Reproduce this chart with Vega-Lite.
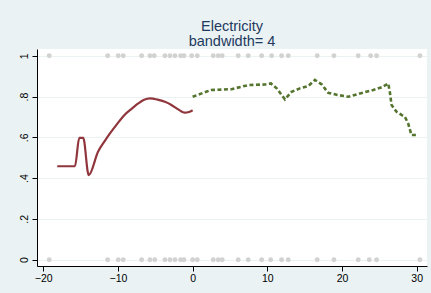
{
  "$schema": "https://vega.github.io/schema/vega-lite/v6.json",
  "width": 390,
  "height": 217,
  "autosize": {"type": "none"},
  "padding": {"left": 37, "top": 49, "right": 4, "bottom": 27},
  "background": "#EAF2F3",
  "config": {
    "view": {"fill": "white", "stroke": null},
    "font": "Liberation Sans"
  },
  "title": {
    "text": ["Electricity", "bandwidth= 4"],
    "anchor": "middle",
    "fontSize": 14.5,
    "fontWeight": "normal",
    "color": "#1E3A5F",
    "lineHeight": 15,
    "offset": 0,
    "font": "Liberation Sans"
  },
  "datasets": {
    "pts": [
      {"x": -19.2, "y": 1}, {"x": -11.38, "y": 1}, {"x": -9.96, "y": 1}, {"x": -9.29, "y": 1},
      {"x": -6.83, "y": 1}, {"x": -5.72, "y": 1}, {"x": -5.14, "y": 1}, {"x": -3.71, "y": 1},
      {"x": -3.04, "y": 1}, {"x": -2.37, "y": 1}, {"x": -1.61, "y": 1}, {"x": -1.16, "y": 1},
      {"x": -0.13, "y": 1}, {"x": 0.62, "y": 1}, {"x": 2.76, "y": 1}, {"x": 3.43, "y": 1},
      {"x": 3.96, "y": 1}, {"x": 6.1, "y": 1}, {"x": 7.44, "y": 1}, {"x": 9.24, "y": 1},
      {"x": 10.58, "y": 1}, {"x": 11.91, "y": 1}, {"x": 12.8, "y": 1}, {"x": 16.68, "y": 1},
      {"x": 18.92, "y": 1}, {"x": 22.17, "y": 1}, {"x": 23.83, "y": 1}, {"x": 24.63, "y": 1},
      {"x": 30.43, "y": 1},
      {"x": -19.2, "y": 0}, {"x": -11.38, "y": 0}, {"x": -9.96, "y": 0}, {"x": -9.29, "y": 0},
      {"x": -6.83, "y": 0}, {"x": -5.72, "y": 0}, {"x": -5.07, "y": 0}, {"x": -3.71, "y": 0},
      {"x": -3.04, "y": 0}, {"x": -2.37, "y": 0}, {"x": -1.61, "y": 0}, {"x": -1.16, "y": 0},
      {"x": 0.0, "y": 0}, {"x": 0.62, "y": 0}, {"x": 2.76, "y": 0}, {"x": 3.43, "y": 0},
      {"x": 3.96, "y": 0}, {"x": 6.1, "y": 0}, {"x": 7.44, "y": 0}, {"x": 9.24, "y": 0},
      {"x": 10.45, "y": 0}, {"x": 11.91, "y": 0}, {"x": 12.8, "y": 0}, {"x": 16.68, "y": 0},
      {"x": 18.92, "y": 0}, {"x": 22.17, "y": 0}, {"x": 23.65, "y": 0}, {"x": 24.63, "y": 0},
      {"x": 30.43, "y": 0}
    ],
    "left": [
      {"x": -18.13, "y": 0.458}, {"x": -15.76, "y": 0.458}, {"x": -15.18, "y": 0.597},
      {"x": -14.65, "y": 0.597}, {"x": -13.92, "y": 0.415}, {"x": -12.64, "y": 0.532},
      {"x": -11.8, "y": 0.58}, {"x": -11.07, "y": 0.619}, {"x": -10.1, "y": 0.666},
      {"x": -9.06, "y": 0.712}, {"x": -8.1, "y": 0.742}, {"x": -7.28, "y": 0.766},
      {"x": -6.5, "y": 0.784}, {"x": -5.72, "y": 0.791}, {"x": -4.7, "y": 0.785},
      {"x": -3.71, "y": 0.774}, {"x": -2.9, "y": 0.76}, {"x": -2.14, "y": 0.742},
      {"x": -1.5, "y": 0.727}, {"x": -1.03, "y": 0.721}, {"x": -0.5, "y": 0.724},
      {"x": 0.0, "y": 0.733}
    ],
    "right": [
      {"x": 0.0, "y": 0.799}, {"x": 2.46, "y": 0.832}, {"x": 5.2, "y": 0.836},
      {"x": 7.44, "y": 0.856}, {"x": 9.68, "y": 0.859}, {"x": 10.48, "y": 0.864},
      {"x": 11.25, "y": 0.84}, {"x": 12.36, "y": 0.786}, {"x": 13.25, "y": 0.823},
      {"x": 14.36, "y": 0.84}, {"x": 15.48, "y": 0.851}, {"x": 16.37, "y": 0.881},
      {"x": 17.27, "y": 0.86}, {"x": 18.15, "y": 0.818}, {"x": 19.5, "y": 0.807},
      {"x": 20.83, "y": 0.799}, {"x": 22.4, "y": 0.815}, {"x": 24.18, "y": 0.832},
      {"x": 25.3, "y": 0.845}, {"x": 26.19, "y": 0.864}, {"x": 26.4, "y": 0.823},
      {"x": 26.64, "y": 0.758}, {"x": 27.3, "y": 0.725}, {"x": 28.42, "y": 0.7},
      {"x": 28.86, "y": 0.668}, {"x": 29.3, "y": 0.611}, {"x": 30.2, "y": 0.611}
    ]
  },
  "encoding": {
    "x": {
      "field": "x", "type": "quantitative",
      "scale": {"domain": [-20.84, 31.38], "nice": false, "zero": false},
      "axis": {
        "title": null, "values": [-20, -10, 0, 10, 20, 30], "grid": false,
        "domainColor": "black", "tickColor": "black", "tickSize": 5,
        "labelColor": "black", "labelFontSize": 10.5, "labelPadding": 2,
        "labelFont": "Liberation Sans", "domainWidth": 1, "labelFlush": false
      }
    },
    "y": {
      "field": "y", "type": "quantitative",
      "scale": {"domain": [-0.031, 1.033], "nice": false, "zero": false},
      "axis": {
        "title": null, "values": [0, 0.2, 0.4, 0.6, 0.8, 1],
        "labelExpr": "datum.value == 0 ? '0' : datum.value == 1 ? '1' : substring(format(datum.value, '.1f'), 1)",
        "grid": true, "gridColor": "#EAF2F3", "gridWidth": 1.2,
        "domainColor": "black", "tickColor": "black", "tickSize": 5,
        "labelColor": "black", "labelFontSize": 10.5, "labelPadding": 3,
        "labelAngle": -90, "labelAlign": "center", "labelBaseline": "bottom",
        "labelFont": "Liberation Sans", "labelFlush": false
      }
    }
  },
  "layer": [
    {
      "data": {"name": "pts"},
      "mark": {"type": "point", "filled": true, "size": 24, "color": "#D2D2D2", "opacity": 1}
    },
    {
      "data": {"name": "left"},
      "mark": {"type": "line", "color": "#90353B", "strokeWidth": 2.2, "strokeJoin": "round", "interpolate": "monotone"}
    },
    {
      "data": {"name": "right"},
      "mark": {"type": "line", "color": "#55752F", "strokeWidth": 2.6, "strokeDash": [4, 2.5]}
    }
  ]
}
